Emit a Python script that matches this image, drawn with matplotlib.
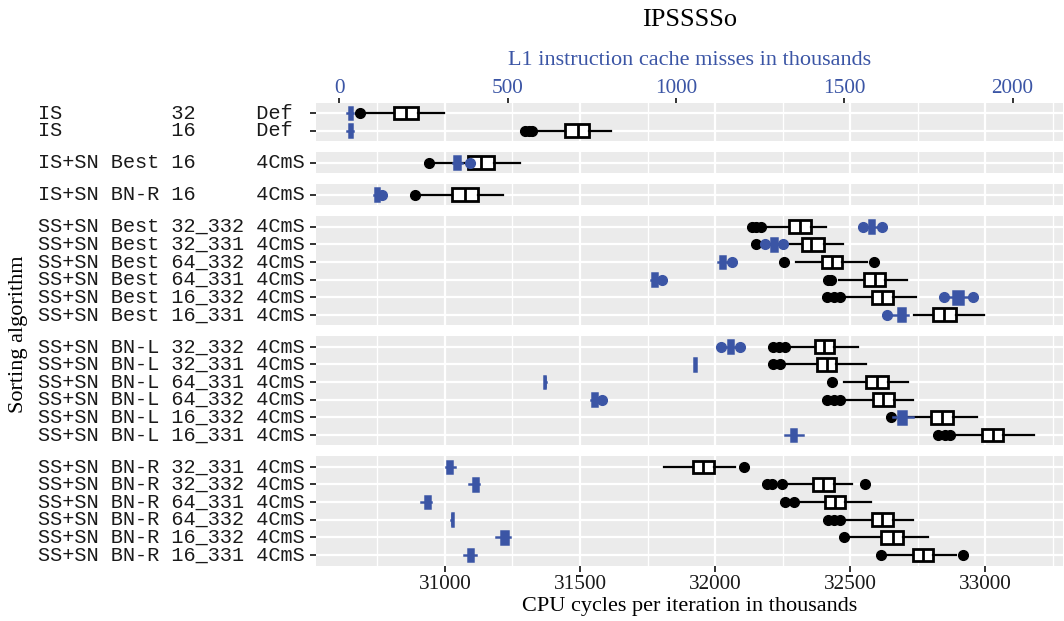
import numpy as np
import matplotlib.pyplot as plt
from matplotlib.ticker import FixedLocator
from matplotlib.transforms import blended_transform_factory

plt.rcParams['font.family'] = 'Liberation Serif'

# rows top to bottom
labels = [
    "IS         32     Def ",
    "IS         16     Def ",
    "IS+SN Best 16     4CmS",
    "IS+SN BN-R 16     4CmS",
    "SS+SN Best 32_332 4CmS",
    "SS+SN Best 32_331 4CmS",
    "SS+SN Best 64_332 4CmS",
    "SS+SN Best 64_331 4CmS",
    "SS+SN Best 16_332 4CmS",
    "SS+SN Best 16_331 4CmS",
    "SS+SN BN-L 32_332 4CmS",
    "SS+SN BN-L 32_331 4CmS",
    "SS+SN BN-L 64_331 4CmS",
    "SS+SN BN-L 64_332 4CmS",
    "SS+SN BN-L 16_332 4CmS",
    "SS+SN BN-L 16_331 4CmS",
    "SS+SN BN-R 32_331 4CmS",
    "SS+SN BN-R 32_332 4CmS",
    "SS+SN BN-R 64_331 4CmS",
    "SS+SN BN-R 64_332 4CmS",
    "SS+SN BN-R 16_332 4CmS",
    "SS+SN BN-R 16_331 4CmS",
]
facet_sizes = [2, 1, 1, 6, 6, 6]

# CPU cycles per iteration (thousands)
cpu_lo = [30695, 31330, 30955, 30895,
          32180, 32200, 32298, 32457, 32470, 32734,
          32262, 32250, 32478, 32468, 32680, 32875,
          31810, 32250, 32295, 32468, 32490, 32625]
cpu_q1 = [30811, 31446, 31085, 31025,
          32272, 32320, 32396, 32550, 32581, 32805,
          32369, 32376, 32557, 32583, 32798, 32986,
          31917, 32361, 32408, 32579, 32612, 32731]
cpu_med = [30856, 31491, 31133, 31074,
           32313, 32353, 32431, 32591, 32616, 32848,
           32402, 32413, 32600, 32620, 32838, 33027,
           31954, 32398, 32445, 32616, 32657, 32768]
cpu_q3 = [30902, 31533, 31182, 31121,
          32353, 32402, 32468, 32630, 32657, 32892,
          32439, 32446, 32641, 32663, 32879, 33066,
          31994, 32439, 32482, 32657, 32696, 32805]
cpu_hi = [30996, 31614, 31278, 31216,
          32409, 32472, 32561, 32709, 32742, 32994,
          32529, 32557, 32714, 32731, 32968, 33178,
          32075, 32505, 32576, 32731, 32789, 32890]
cpu_out = [[30686], [31298, 31310, 31322], [30941], [30888],
           [32136, 32150, 32170], [32152], [32256, 32587], [32418, 32428],
           [32412, 32440, 32462], [],
           [32213, 32235, 32258], [32215, 32240], [32431], [32415, 32440, 32462],
           [32650], [32826, 32850, 32870],
           [32108], [32191, 32210, 32247, 32553], [32260, 32290],
           [32419, 32440, 32462], [32478], [32612, 32916]]

# L1 instruction cache misses (thousands)
l1_lo = [24, 24, 338, 102,
         1560, 1275, 1125, 925, 1805, 1640,
         1140, 1053, 607, 748, 1645, 1325,
         316, 385, 243, 333, 467, 372]
l1_q1 = [28, 28, 342, 106,
         1574, 1284, 1130, 929, 1823, 1660,
         1154, 1055, 609, 751, 1660, 1341,
         321, 397, 255, 335, 480, 382]
l1_med = [33, 33, 350, 112,
          1580, 1293, 1138, 937, 1838, 1670,
          1162, 1057, 610, 758, 1672, 1349,
          328, 405, 262, 336, 492, 390]
l1_q3 = [38, 38, 358, 118,
         1588, 1301, 1146, 945, 1853, 1682,
         1170, 1059, 612, 765, 1684, 1357,
         336, 411, 269, 338, 500, 398]
l1_hi = [42, 42, 364, 124,
         1600, 1310, 1150, 950, 1870, 1690,
         1185, 1061, 613, 770, 1705, 1378,
         344, 415, 274, 339, 506, 406]
l1_out = [[], [], [387], [128],
          [1555, 1613], [1266, 1318], [1168], [960], [1796, 1883], [1627],
          [1133, 1190], [], [], [782], [], [],
          [], [], [], [], [], []]

blue = '#3b55a5'
panel_bg = '#ebebeb'

fig = plt.figure(figsize=(10.64, 6.21), dpi=100)
gs = fig.add_gridspec(len(facet_sizes), 1,
                      height_ratios=[n + 0.2 for n in facet_sizes],
                      left=316 / 1064, right=1063 / 1064,
                      top=1 - 102.5 / 621, bottom=1 - 565.5 / 621,
                      hspace=0.16)


def make_stats(idx, lo, q1, med, q3, hi, out):
    return [dict(whislo=lo[i], q1=q1[i], med=med[i], q3=q3[i], whishi=hi[i],
                 fliers=out[i]) for i in idx]


start = 0
nf = len(facet_sizes)
for f, n in enumerate(facet_sizes):
    idx = list(range(start, start + n))
    start += n
    ax = fig.add_subplot(gs[f])
    ax.set_facecolor(panel_bg)
    for s in ax.spines.values():
        s.set_visible(False)

    ax.bxp(make_stats(idx, cpu_lo, cpu_q1, cpu_med, cpu_q3, cpu_hi, cpu_out),
           positions=range(n), widths=0.72, orientation='horizontal',
           patch_artist=True, showcaps=False, manage_ticks=False,
           boxprops=dict(facecolor='white', edgecolor='black', linewidth=2),
           medianprops=dict(color='black', linewidth=2),
           whiskerprops=dict(color='black', linewidth=1.6),
           flierprops=dict(marker='o', markerfacecolor='black',
                           markeredgecolor='black', markersize=7))
    ax.set_xlim(30523, 33287)
    ax.set_ylim(n - 1 + 0.6, -0.6)
    ax.set_yticks(range(n))
    ax.set_yticklabels([])
    ax.xaxis.set_major_locator(FixedLocator([31000, 31500, 32000, 32500, 33000]))
    ax.xaxis.set_minor_locator(FixedLocator([30750, 31250, 31750, 32250, 32750, 33250]))
    ax.grid(True, which='major', color='white', linewidth=1.6)
    ax.grid(True, which='minor', axis='x', color='white', linewidth=1.0)
    ax.set_axisbelow(True)
    ax.tick_params(which='minor', length=0)
    ax.tick_params(axis='y', length=4, width=1.4, color='#333333')
    if f == nf - 1:
        ax.tick_params(axis='x', which='major', length=4, width=1.4,
                       color='#333333', labelsize=15.3, labelcolor='#1a1a1a', pad=3)
        ax.set_xlabel('CPU cycles per iteration in thousands', fontsize=16,
                      color='black', labelpad=2)
    else:
        ax.tick_params(axis='x', which='major', length=0, labelbottom=False)

    tr = blended_transform_factory(fig.transFigure, ax.transData)
    for k, i in enumerate(idx):
        ax.text(38 / 1064, k, labels[i], transform=tr, ha='left', va='center',
                family='Liberation Mono', fontsize=14.6, color='#1a1a1a')

    ax2 = ax.twiny()
    for s in ax2.spines.values():
        s.set_visible(False)
    ax2.bxp(make_stats(idx, l1_lo, l1_q1, l1_med, l1_q3, l1_hi, l1_out),
            positions=range(n), widths=0.72, orientation='horizontal',
            patch_artist=True, showcaps=False, manage_ticks=False,
            boxprops=dict(facecolor=blue, edgecolor=blue, linewidth=1.8),
            medianprops=dict(color=blue, linewidth=1.8),
            whiskerprops=dict(color=blue, linewidth=1.8),
            flierprops=dict(marker='o', markerfacecolor=blue,
                            markeredgecolor=blue, markersize=7))
    ax2.set_xlim(-69, 2150)
    ax2.set_ylim(n - 1 + 0.6, -0.6)
    if f == 0:
        ax2.set_xticks([0, 500, 1000, 1500, 2000])
        ax2.tick_params(axis='x', length=3.5, width=1.4, color='#333333',
                        labelsize=15.3, labelcolor=blue, pad=0)
        ax2.set_xlabel('L1 instruction cache misses in thousands', fontsize=16,
                       color=blue, labelpad=9.5)
        ax2.set_title('IPSSSSo', fontsize=19, pad=18.5)
    else:
        ax2.set_xticks([])

fig.text(19 / 1064, 1 - 334 / 621, 'Sorting algorithm', rotation=90,
         ha='center', va='center', fontsize=16)

fig.savefig('out.png', dpi=100)
